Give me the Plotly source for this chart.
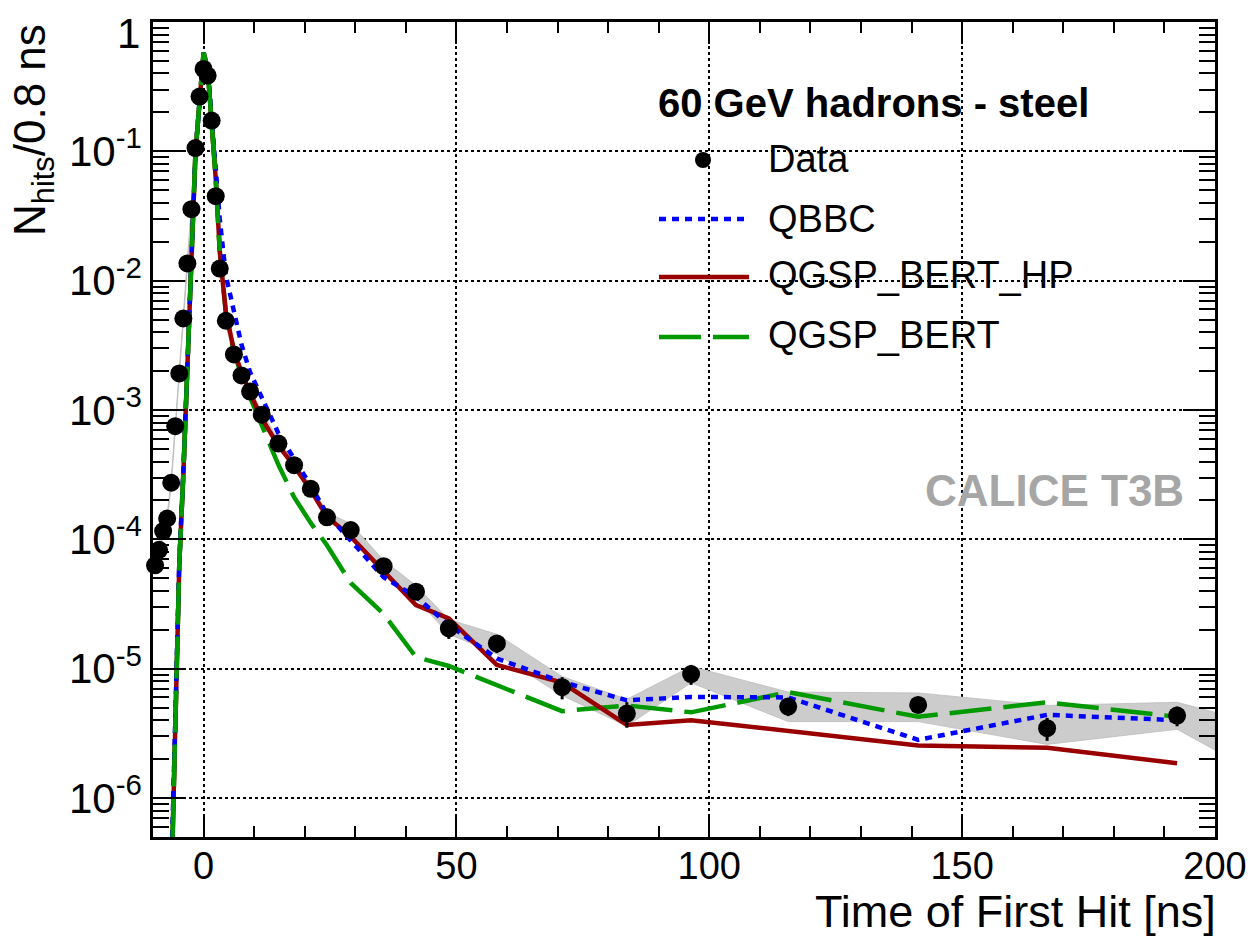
import plotly.graph_objects as go

# ---------------- data ----------------
t_ns = [-9.6, -8.8, -8.0, -7.2, -6.4, -5.6, -4.8, -4.0, -3.2, -2.4, -1.6, -0.8, 0.0, 0.8,
        1.6, 2.4, 3.2, 4.4, 6.0, 7.5, 9.2, 11.5, 14.8, 17.9, 21.2, 24.4, 29.1, 35.6,
        42.0, 48.5, 58.0, 70.9, 83.7, 96.4, 115.6, 141.3, 166.8, 192.5]

data_y = [6.3e-5, 8.3e-5, 1.16e-4, 1.45e-4, 2.74e-4, 7.5e-4, 1.92e-3, 5.1e-3, 1.36e-2, 3.57e-2,
          0.106, 0.265, 0.434, 0.385, 0.173, 0.045, 0.0124, 4.9e-3, 2.69e-3, 1.85e-3,
          1.39e-3, 9.2e-4, 5.5e-4, 3.75e-4, 2.46e-4, 1.48e-4, 1.18e-4, 6.2e-5, 3.94e-5,
          2.05e-5, 1.57e-5, 7.2e-6, 4.5e-6, 9.1e-6, 5.1e-6, 5.25e-6, 3.47e-6, 4.34e-6]

data_err = [1.5e-6, 2e-6, 2.5e-6, 3e-6, 5e-6, 1.2e-5, 3e-5, 7e-5, 1.8e-4, 4e-4,
            1e-3, 2e-3, 3e-3, 3e-3, 1.5e-3, 5e-4, 1.5e-4, 6e-5, 4e-5, 3e-5,
            2.5e-5, 1.8e-5, 1.2e-5, 9e-6, 7e-6, 5e-6, 4e-6, 2.5e-6, 2e-6,
            3.5e-6, 2.5e-6, 1.4e-6, 1.0e-6, 1.6e-6, 0.8e-6, 0.7e-6, 0.7e-6, 0.75e-6]

band_t = t_ns + [200.0]
band_lo = [5.9e-5, 7.8e-5, 1.09e-4, 1.36e-4, 2.58e-4, 7.0e-4, 1.80e-3, 4.8e-3, 1.28e-2, 3.36e-2,
           0.100, 0.250, 0.41, 0.362, 0.163, 0.0423, 0.0117, 4.6e-3, 2.53e-3, 1.74e-3,
           1.31e-3, 8.6e-4, 5.15e-4, 3.5e-4, 2.3e-4, 1.38e-4, 1.08e-4, 5.6e-5, 3.5e-5,
           1.85e-5, 1.3e-5, 6.2e-6, 3.6e-6, 7.8e-6, 3.9e-6, 3.9e-6, 2.6e-6, 3.4e-6, 2.35e-6]
band_hi = [6.8e-5, 8.9e-5, 1.24e-4, 1.55e-4, 2.93e-4, 8.0e-4, 2.05e-3, 5.45e-3, 1.45e-2, 3.80e-2,
           0.113, 0.282, 0.46, 0.41, 0.184, 0.0479, 0.0132, 5.2e-3, 2.86e-3, 1.97e-3,
           1.48e-3, 9.8e-4, 5.9e-4, 4.0e-4, 2.65e-4, 1.62e-4, 1.32e-4, 6.9e-5, 4.4e-5,
           2.4e-5, 1.85e-5, 8.7e-6, 5.8e-6, 1.04e-5, 6.6e-6, 6.5e-6, 5.2e-6, 5.5e-6, 4.6e-6]

qbbc = [None, None, None, None, 2.5e-7, 3.0e-6, 6.8e-5, 3.3e-4, 2.2e-3, 0.0138,
        0.098, 0.24, 0.58, 0.44, 0.17, 0.066, 0.030, 0.011, 5.7e-3, 3.2e-3,
        1.96e-3, 1.26e-3, 6.6e-4, 4.2e-4, 2.6e-4, 1.57e-4, 9.9e-5, 5.1e-5, 3.6e-5,
        2.18e-5, 1.2e-5, 7.9e-6, 5.7e-6, 6.05e-6, 6.0e-6, 2.82e-6, 4.4e-6, 4.0e-6]

qgsp_bert_hp = [None, None, None, None, 1.8e-7, 2.7e-6, 6.5e-5, 3.2e-4, 2.19e-3, 0.0138,
                0.098, 0.24, 0.58, 0.44, 0.17, 0.062, 0.017, 5.7e-3, 2.9e-3, 1.95e-3,
                1.35e-3, 8.6e-4, 5.3e-4, 3.7e-4, 2.4e-4, 1.5e-4, 1.05e-4, 5.7e-5, 3.11e-5,
                2.45e-5, 1.07e-5, 7.8e-6, 3.68e-6, 4.0e-6, 3.3e-6, 2.55e-6, 2.45e-6, 1.86e-6]

qgsp_bert = [None, None, None, None, 1.8e-7, 2.7e-6, 6.5e-5, 3.2e-4, 2.19e-3, 0.0138,
             0.098, 0.24, 0.58, 0.44, 0.17, 0.062, 0.017, 5.7e-3, 2.8e-3, 1.85e-3,
             1.25e-3, 7.6e-4, 3.77e-4, 2.12e-4, 1.34e-4, 9.0e-5, 4.6e-5, 2.65e-5, 1.23e-5,
             1.05e-5, 7.4e-6, 4.7e-6, 5.2e-6, 4.6e-6, 6.6e-6, 4.25e-6, 5.5e-6, 4.25e-6]

x_ticks = [0, 50, 100, 150, 200]
y_tickvals = [1, 1e-1, 1e-2, 1e-3, 1e-4, 1e-5, 1e-6]
# the top label "1" is drawn separately (nudged inside the frame, as in the reference)
y_ticktext = ["", "10<sup>-1</sup>", "10<sup>-2</sup>", "10<sup>-3</sup>",
              "10<sup>-4</sup>", "10<sup>-5</sup>", "10<sup>-6</sup>"]
y_top_label = "1"

legend_names = ["Data", "QBBC", "QGSP_BERT_HP", "QGSP_BERT"]
header_text = "60 GeV hadrons - steel"
watermark = "CALICE T3B"

# ---------------- styling ----------------
FONT = "Liberation Sans, Arial, Helvetica, sans-serif"
C_BLUE = "#0000ff"
C_RED = "#990000"
C_GREEN = "#009900"
C_BAND = "#cccccc"
LW = 4.5
DASH_BLUE = "7px,6px"
DASH_GREEN = "42px,12px"

W, H = 1254, 939
ML, MR, MT, MB = 153, 39, 22, 102
PW, PH = W - ML - MR, H - MT - MB


def px(xp):
    return (xp - ML) / PW


def py(yp):
    return (H - MB - yp) / PH


fig = go.Figure()

# systematic band
fig.add_trace(go.Scatter(
    x=band_t + band_t[::-1], y=band_hi + band_lo[::-1],
    fill="toself", fillcolor=C_BAND, line=dict(width=0.8, color="#bbbbbb"),
    mode="lines", hoverinfo="skip", showlegend=False))

fig.add_trace(go.Scatter(x=t_ns, y=qgsp_bert, mode="lines", name=legend_names[3],
                         line=dict(color=C_GREEN, width=LW, dash=DASH_GREEN), showlegend=False))
fig.add_trace(go.Scatter(x=t_ns, y=qgsp_bert_hp, mode="lines", name=legend_names[2],
                         line=dict(color=C_RED, width=LW), showlegend=False))
fig.add_trace(go.Scatter(x=t_ns, y=qbbc, mode="lines", name=legend_names[1],
                         line=dict(color=C_BLUE, width=LW, dash=DASH_BLUE), showlegend=False))
# green drawn again on top in the peak region, as in the reference
fig.add_trace(go.Scatter(x=t_ns[:17], y=qgsp_bert[:17], mode="lines", name=legend_names[3],
                         line=dict(color=C_GREEN, width=LW, dash=DASH_GREEN), showlegend=False))

fig.add_trace(go.Scatter(
    x=t_ns, y=data_y, mode="markers", name=legend_names[0],
    marker=dict(color="black", size=18),
    error_y=dict(type="data", array=data_err, color="black", thickness=3, width=0),
    cliponaxis=False, showlegend=False))

axis_common = dict(showline=True, linewidth=2.5, linecolor="black", mirror="ticks",
                   ticks="inside", tickcolor="black", tickwidth=2,
                   showgrid=True, gridcolor="black", gridwidth=2, griddash="3px,3px",
                   zeroline=False, automargin=False)

fig.update_xaxes(range=[-10, 200], tickvals=x_ticks, ticklen=22,
                 tickfont=dict(family=FONT, size=38, color="black"),
                 ticklabelstandoff=-6,
                 minor=dict(dtick=10, ticks="inside", ticklen=11, tickcolor="black",
                            tickwidth=2, showgrid=False),
                 **axis_common)
fig.update_yaxes(type="log", range=[-6.301, 0], tickvals=y_tickvals, ticktext=y_ticktext,
                 ticklen=32, tickfont=dict(family=FONT, size=42, color="black"),
                 minor=dict(dtick="D1", ticks="inside", ticklen=16, tickcolor="black",
                            tickwidth=2, showgrid=False),
                 **axis_common)

annotations = [
    dict(text="Time of First Hit [ns]", x=1.003, y=py(912), xref="paper", yref="paper",
         xanchor="right", yanchor="middle", showarrow=False,
         font=dict(family=FONT, size=45, color="black")),
    dict(text="N<sub>hits</sub>/0.8 ns", x=px(33), y=1.0, xref="paper", yref="paper",
         xanchor="center", yanchor="top", textangle=-90, showarrow=False,
         font=dict(family=FONT, size=44, color="black")),
    dict(text=y_top_label, x=px(142), y=py(33), xref="paper", yref="paper",
         xanchor="right", yanchor="middle", showarrow=False,
         font=dict(family=FONT, size=42, color="black")),
    dict(text="<b>" + header_text + "</b>", x=px(873), y=py(103), xref="paper", yref="paper",
         xanchor="center", yanchor="middle", showarrow=False,
         font=dict(family=FONT, size=40, color="black")),
    dict(text="<b>" + watermark + "</b>", x=px(1186), y=py(490), xref="paper", yref="paper",
         xanchor="right", yanchor="middle", showarrow=False,
         font=dict(family=FONT, size=44, color="#a6a6a6")),
]
leg_y = [159, 219, 275, 335]
for name, yy in zip(legend_names, leg_y):
    annotations.append(dict(text=name, x=px(766), y=py(yy), xref="paper", yref="paper",
                            xanchor="left", yanchor="middle", showarrow=False,
                            font=dict(family=FONT, size=38, color="black")))

shapes = [
    dict(type="circle", xref="paper", yref="paper", xsizemode="pixel", ysizemode="pixel",
         xanchor=px(703), yanchor=py(160), x0=-8, x1=8, y0=-8, y1=8,
         fillcolor="black", line=dict(color="black", width=0)),
    dict(type="line", xref="paper", yref="paper", x0=px(659), x1=px(749), y0=py(219), y1=py(219),
         line=dict(color=C_BLUE, width=LW, dash=DASH_BLUE)),
    dict(type="line", xref="paper", yref="paper", x0=px(659), x1=px(749), y0=py(277), y1=py(277),
         line=dict(color=C_RED, width=LW)),
    dict(type="line", xref="paper", yref="paper", x0=px(659), x1=px(749), y0=py(337), y1=py(337),
         line=dict(color=C_GREEN, width=LW, dash=DASH_GREEN)),
]

fig.update_layout(width=W, height=H, margin=dict(l=ML, r=MR, t=MT, b=MB, autoexpand=False),
                  paper_bgcolor="white", plot_bgcolor="white",
                  annotations=annotations, shapes=shapes, showlegend=False)

fig.write_html("out.html")
